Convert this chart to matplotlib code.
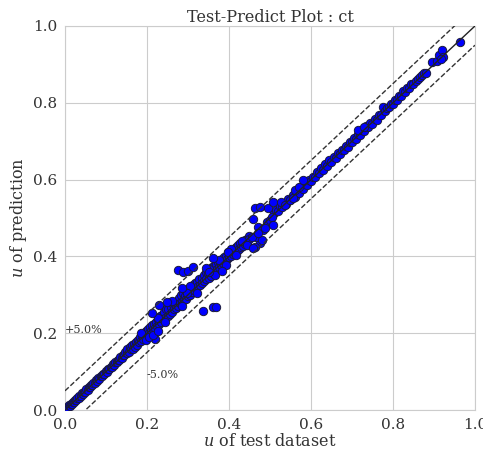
import matplotlib
matplotlib.use("Agg")
import matplotlib.pyplot as plt
import seaborn as sns

# test values (x) and predictions (y)
u_low_test = [0.006, 0.009, 0.011, 0.014, 0.017, 0.019, 0.022, 0.025, 0.027, 0.030,
              0.033, 0.035, 0.038, 0.041, 0.044, 0.046, 0.049, 0.052, 0.055, 0.058,
              0.061, 0.063, 0.066, 0.069, 0.072, 0.075, 0.078, 0.081, 0.084, 0.087,
              0.090, 0.093, 0.096, 0.099, 0.102, 0.105, 0.108, 0.111, 0.114, 0.117,
              0.120, 0.123, 0.126, 0.129, 0.132, 0.135, 0.138, 0.141, 0.144, 0.147, 0.150]
u_low_pred = [0.008, 0.012, 0.010, 0.016, 0.015, 0.021, 0.020, 0.026, 0.025, 0.031,
              0.032, 0.037, 0.036, 0.043, 0.042, 0.048, 0.047, 0.054, 0.053, 0.060,
              0.059, 0.065, 0.064, 0.071, 0.070, 0.077, 0.076, 0.083, 0.082, 0.089,
              0.088, 0.095, 0.094, 0.101, 0.100, 0.107, 0.106, 0.113, 0.112, 0.119,
              0.118, 0.125, 0.124, 0.131, 0.130, 0.137, 0.136, 0.144, 0.142, 0.150, 0.149]

u_mid_test = [0.152, 0.155, 0.158, 0.160, 0.163, 0.165, 0.168, 0.170, 0.172, 0.175,
              0.177, 0.180, 0.182, 0.185, 0.187, 0.190, 0.192, 0.195, 0.197, 0.200,
              0.202, 0.205, 0.207, 0.210, 0.212, 0.215, 0.217, 0.220, 0.222, 0.225,
              0.227, 0.230, 0.232, 0.235, 0.237, 0.240, 0.242, 0.245, 0.247, 0.250,
              0.252, 0.255, 0.258, 0.260, 0.263, 0.265, 0.268, 0.270, 0.273, 0.275,
              0.278, 0.280, 0.283, 0.285, 0.288, 0.290, 0.293, 0.295, 0.298, 0.300,
              0.303, 0.305, 0.308, 0.310, 0.313, 0.315, 0.318, 0.320, 0.323, 0.325,
              0.328, 0.330, 0.333, 0.335, 0.338, 0.340, 0.343, 0.345, 0.348, 0.350,
              0.353, 0.355, 0.358, 0.360, 0.363, 0.365, 0.368, 0.370, 0.373, 0.375,
              0.378, 0.380, 0.383, 0.385, 0.388, 0.390, 0.393, 0.395, 0.398, 0.400,
              0.403, 0.405, 0.408, 0.410, 0.413, 0.415, 0.418, 0.420, 0.423, 0.425,
              0.428, 0.430, 0.433, 0.435, 0.438, 0.440, 0.443, 0.445, 0.448, 0.450,
              0.186, 0.198, 0.226, 0.244, 0.262, 0.286, 0.306, 0.322, 0.352, 0.366,
              0.376, 0.392, 0.406, 0.418, 0.432, 0.444]
u_mid_pred = [0.160, 0.150, 0.165, 0.158, 0.170, 0.160, 0.172, 0.165, 0.178, 0.170,
              0.182, 0.176, 0.190, 0.180, 0.195, 0.185, 0.200, 0.192, 0.205, 0.196,
              0.210, 0.200, 0.215, 0.205, 0.222, 0.210, 0.225, 0.214, 0.230, 0.220,
              0.238, 0.224, 0.245, 0.228, 0.248, 0.236, 0.255, 0.240, 0.262, 0.246,
              0.262, 0.250, 0.268, 0.256, 0.275, 0.262, 0.280, 0.266, 0.285, 0.270,
              0.292, 0.278, 0.300, 0.282, 0.305, 0.288, 0.298, 0.290, 0.310, 0.296,
              0.318, 0.300, 0.322, 0.308, 0.326, 0.312, 0.330, 0.318, 0.334, 0.322,
              0.340, 0.326, 0.345, 0.330, 0.352, 0.335, 0.360, 0.340, 0.358, 0.345,
              0.365, 0.350, 0.372, 0.356, 0.375, 0.362, 0.380, 0.366, 0.385, 0.372,
              0.388, 0.378, 0.392, 0.382, 0.398, 0.388, 0.402, 0.392, 0.412, 0.398,
              0.408, 0.400, 0.415, 0.405, 0.418, 0.410, 0.425, 0.415, 0.430, 0.418,
              0.435, 0.424, 0.438, 0.428, 0.442, 0.432, 0.446, 0.438, 0.452, 0.445,
              0.200, 0.182, 0.240, 0.228, 0.284, 0.270, 0.322, 0.305, 0.368, 0.352,
              0.390, 0.378, 0.418, 0.404, 0.440, 0.430]

u_high_test = [0.510, 0.515, 0.520, 0.525, 0.530, 0.535, 0.540, 0.545, 0.550, 0.555,
               0.560, 0.565, 0.570, 0.575, 0.580, 0.585, 0.590, 0.595, 0.600, 0.605,
               0.610, 0.615, 0.620, 0.625, 0.630, 0.635, 0.640, 0.645, 0.650, 0.655,
               0.660, 0.665, 0.670, 0.675, 0.680, 0.685, 0.690, 0.695, 0.700, 0.705,
               0.710, 0.715, 0.720, 0.725, 0.730, 0.735, 0.740, 0.745, 0.750, 0.755,
               0.760, 0.765, 0.770, 0.775, 0.780, 0.785, 0.790, 0.795, 0.800, 0.805,
               0.810, 0.815, 0.820, 0.825, 0.830, 0.835, 0.840, 0.845, 0.850, 0.855,
               0.860, 0.865, 0.870, 0.875, 0.880]
u_high_pred = [0.512, 0.520, 0.518, 0.530, 0.528, 0.538, 0.536, 0.549, 0.546, 0.560,
               0.555, 0.570, 0.566, 0.580, 0.576, 0.590, 0.586, 0.600, 0.596, 0.608,
               0.606, 0.620, 0.616, 0.630, 0.626, 0.640, 0.636, 0.650, 0.646, 0.660,
               0.656, 0.668, 0.666, 0.678, 0.676, 0.688, 0.686, 0.698, 0.697, 0.708,
               0.706, 0.720, 0.716, 0.728, 0.727, 0.740, 0.736, 0.748, 0.746, 0.758,
               0.756, 0.768, 0.768, 0.788, 0.778, 0.786, 0.788, 0.798, 0.798, 0.808,
               0.808, 0.818, 0.818, 0.830, 0.828, 0.838, 0.838, 0.848, 0.849, 0.858,
               0.862, 0.868, 0.872, 0.878, 0.878]

# scattered points off the main band
u_out_test = [0.276, 0.289, 0.301, 0.313, 0.337, 0.362, 0.368, 0.463, 0.476, 0.496,
              0.459, 0.476, 0.463, 0.362, 0.382, 0.211, 0.220, 0.205, 0.215, 0.228,
              0.230, 0.248, 0.297, 0.285, 0.345, 0.350, 0.398, 0.484, 0.492, 0.500,
              0.504, 0.471, 0.467, 0.480, 0.459, 0.508, 0.508, 0.528, 0.537, 0.549,
              0.557, 0.560, 0.570, 0.580, 0.715, 0.730, 0.894, 0.907, 0.913, 0.919,
              0.923, 0.918, 0.963, 0.455, 0.470, 0.488]
u_out_pred = [0.365, 0.360, 0.363, 0.373, 0.259, 0.269, 0.267, 0.525, 0.528, 0.525,
              0.497, 0.434, 0.425, 0.397, 0.363, 0.253, 0.184, 0.190, 0.195, 0.205,
              0.273, 0.282, 0.304, 0.317, 0.369, 0.360, 0.412, 0.469, 0.490, 0.495,
              0.503, 0.477, 0.451, 0.443, 0.421, 0.542, 0.482, 0.542, 0.534, 0.547,
              0.551, 0.572, 0.582, 0.600, 0.728, 0.738, 0.907, 0.910, 0.925, 0.938,
              0.920, 0.915, 0.957, 0.450, 0.462, 0.475]

band_pct = 5.0

sns.set_style("whitegrid")
plt.rcParams['font.family'] = ['DejaVu Serif']
plt.rcParams['mathtext.fontset'] = 'dejavuserif'

fig = plt.figure(figsize=(4.83, 4.51), dpi=100)
ax = fig.add_axes([0.1346, 0.0909, 0.8488, 0.8515])

xs = u_low_test + u_mid_test + u_high_test + u_out_test
ys = u_low_pred + u_mid_pred + u_high_pred + u_out_pred
ax.scatter(xs, ys, s=36, c='#0000ff', edgecolors='#1a1a3a', linewidths=0.7, zorder=3)

# identity line and +/- band
ax.plot([0, 1], [0, 1], color='#222222', linewidth=1.0, zorder=4)
off = band_pct / 100
ax.plot([0, 1], [off, 1 + off], color='#333333', linestyle='--', linewidth=1.0, zorder=4)
ax.plot([0, 1], [-off, 1 - off], color='#333333', linestyle='--', linewidth=1.0, zorder=4)
ax.text(0.0, 0.2, f"+{band_pct:.1f}%", fontsize=8, color='#333333')
ax.text(0.2, 0.083, f"-{band_pct:.1f}%", fontsize=8, color='#333333')

ax.set_xlim(0, 1)
ax.set_ylim(0, 1)
ax.set_xticks([0.0, 0.2, 0.4, 0.6, 0.8, 1.0])
ax.set_yticks([0.0, 0.2, 0.4, 0.6, 0.8, 1.0])
ax.tick_params(labelsize=11, colors='#333333', pad=2)
ax.set_xlabel("$u$ of test dataset", fontsize=11.5, color='#333333', labelpad=1)
ax.set_ylabel("$u$ of prediction", fontsize=11.5, color='#333333', labelpad=3)
ax.set_title("Test-Predict Plot : ct", fontsize=11.6, color='#333333', pad=3)

fig.savefig("out.png", dpi=100)
